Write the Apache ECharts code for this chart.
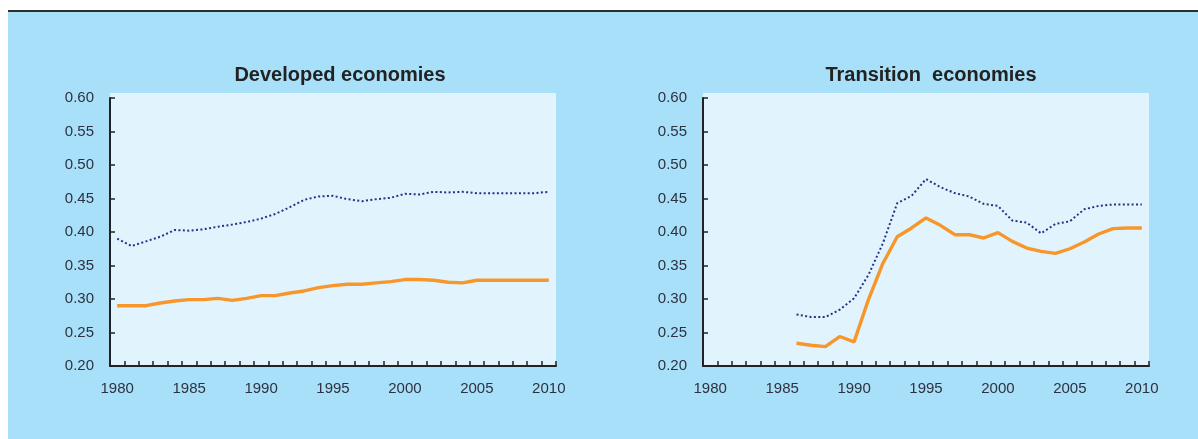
<!DOCTYPE html>
<html>
<head>
<meta charset="utf-8">
<script src="https://cdn.jsdelivr.net/npm/echarts@6/dist/echarts.min.js"></script>
<style>
html,body{margin:0;padding:0;background:#fff;}
#c{width:1198px;height:439px;}
</style>
</head>
<body>
<div id="c"></div>
<script>
var years = ['1980','1981','1982','1983','1984','1985','1986','1987','1988','1989','1990','1991','1992','1993','1994','1995','1996','1997','1998','1999','2000','2001','2002','2003','2004','2005','2006','2007','2008','2009','2010'];
var yTicks = [0.20,0.25,0.30,0.35,0.40,0.45,0.50,0.55,0.60];

var devSolid = [0.290,0.290,0.290,0.294,0.297,0.299,0.299,0.301,0.298,0.301,0.305,0.305,0.309,0.312,0.317,0.320,0.322,0.322,0.324,0.326,0.329,0.329,0.328,0.325,0.324,0.328,0.328,0.328,0.328,0.328,0.328];
var devDotted = [0.390,0.379,0.386,0.393,0.403,0.402,0.404,0.408,0.411,0.415,0.420,0.427,0.437,0.448,0.453,0.454,0.449,0.446,0.449,0.451,0.457,0.456,0.460,0.459,0.460,0.458,0.458,0.458,0.458,0.458,0.460];

var transSolid = [null,null,null,null,null,null,0.234,0.231,0.229,0.244,0.236,0.299,0.353,0.393,0.406,0.421,0.410,0.396,0.396,0.391,0.399,0.386,0.376,0.371,0.368,0.375,0.385,0.397,0.405,0.406,0.406];
var transDotted = [null,null,null,null,null,null,0.277,0.273,0.273,0.284,0.301,0.336,0.383,0.443,0.454,0.479,0.467,0.458,0.453,0.442,0.439,0.417,0.414,0.398,0.412,0.416,0.434,0.439,0.441,0.441,0.441];

var titles = ['Developed economies', 'Transition  economies'];

var FONT = 'Liberation Sans, Arial, sans-serif';
var AXC = '#222';
var LBC = '#2e3140';
var ORANGE = '#f7962b';
var NAVY = '#27318a';

var chart = echarts.init(document.getElementById('c'));

function xAxis(gi){
  return {
    type:'category', gridIndex:gi, data:years, boundaryGap:true,
    axisLine:{show:true, lineStyle:{color:AXC, width:2}},
    axisTick:{show:true, inside:true, interval:0, length:5, lineStyle:{color:AXC, width:1.5}},
    axisLabel:{interval:4, margin:15, color:LBC, fontFamily:FONT, fontSize:15},
    splitLine:{show:false}
  };
}
function yAxis(gi){
  return {
    type:'value', gridIndex:gi, min:0.2, max:0.6, interval:0.05,
    axisLine:{show:true, lineStyle:{color:AXC, width:2}},
    axisTick:{show:true, inside:true, length:5, lineStyle:{color:AXC, width:1.5}},
    axisLabel:{margin:16, color:LBC, fontFamily:FONT, fontSize:15,
      formatter:function(v){ return v.toFixed(2); }},
    splitLine:{show:false}
  };
}
function solid(gi, data){
  return {type:'line', xAxisIndex:gi, yAxisIndex:gi, data:data, symbol:'none',
    lineStyle:{color:ORANGE, width:3.4}, z:3, connectNulls:false};
}
function dotted(gi, data){
  return {type:'line', xAxisIndex:gi, yAxisIndex:gi, data:data, symbol:'none',
    lineStyle:{color:NAVY, width:2, type:[2,2.4]}, z:2, connectNulls:false};
}

chart.setOption({
  backgroundColor:'#ffffff',
  animation:false,
  graphic:[
    {type:'rect', z:-20, silent:true, shape:{x:8, y:12, width:1190, height:427}, style:{fill:'#a9e0f9'}},
    {type:'rect', z:-19, silent:true, shape:{x:8, y:10, width:1190, height:2}, style:{fill:'#2d2d2d'}},
    {type:'rect', z:-18, silent:true, shape:{x:110, y:93, width:446, height:273}, style:{fill:'#e1f4fd'}},
    {type:'rect', z:-18, silent:true, shape:{x:703, y:93, width:446, height:273}, style:{fill:'#e1f4fd'}}
  ],
  title:[
    {text:titles[0], left:335, top:60, textAlign:'center',
      textStyle:{fontFamily:FONT, fontSize:20, fontWeight:'bold', color:'#222'}},
    {text:titles[1], left:926, top:60, textAlign:'center',
      textStyle:{fontFamily:FONT, fontSize:20, fontWeight:'bold', color:'#222'}}
  ],
  grid:[
    {left:110, top:98, width:446, height:268},
    {left:703, top:98, width:446, height:268}
  ],
  xAxis:[xAxis(0), xAxis(1)],
  yAxis:[yAxis(0), yAxis(1)],
  series:[
    dotted(0, devDotted), solid(0, devSolid),
    dotted(1, transDotted), solid(1, transSolid)
  ]
});
</script>
</body>
</html>
